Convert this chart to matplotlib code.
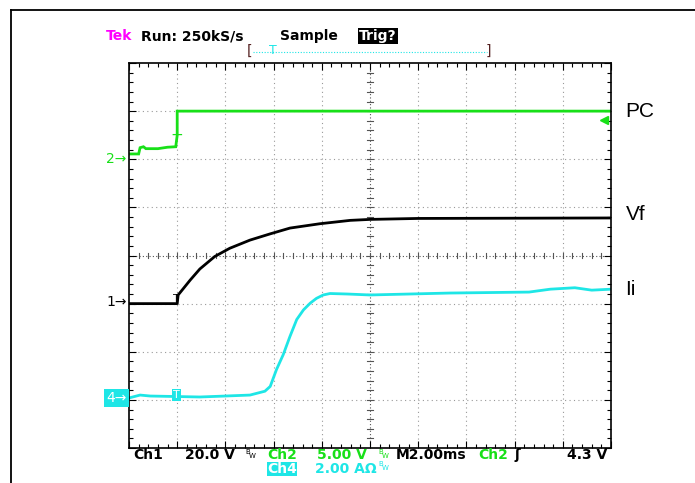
import matplotlib
matplotlib.use("Agg")
import matplotlib.pyplot as plt
import numpy as np
from matplotlib.lines import Line2D

# scope screen in divisions (10 x 8)
ch2_x = [0, 0.2, 0.23, 0.3, 0.35, 0.6, 0.8, 0.97, 1.0, 1.0, 10]
ch2_y = [6.11, 6.11, 6.24, 6.26, 6.22, 6.22, 6.25, 6.26, 6.5, 7.0, 7.0]

ch1_x = [0, 1.0, 1.02, 1.27, 1.47, 1.78, 2.09, 2.51, 2.93, 3.34, 3.96, 4.59, 5.0, 6.0, 10]
ch1_y = [3.0, 3.0, 3.18, 3.49, 3.72, 3.98, 4.15, 4.32, 4.45, 4.57, 4.66, 4.73, 4.75, 4.77, 4.78]

ch4_x = [0, 0.23, 0.44, 1.47, 2.0, 2.51, 2.82, 2.93, 3.06, 3.20, 3.34, 3.48, 3.62, 3.76,
         3.89, 4.03, 4.17, 4.52, 5.0, 6.66, 8.3, 8.74, 9.25, 9.6, 10]
ch4_y = [1.04, 1.10, 1.08, 1.06, 1.08, 1.10, 1.18, 1.28, 1.63, 1.94, 2.32, 2.67, 2.87, 3.01,
         3.11, 3.18, 3.21, 3.20, 3.18, 3.22, 3.24, 3.30, 3.33, 3.28, 3.30]

ground_levels = {"2": 6.0, "1": 3.03, "4": 1.04}
trace_names = ["PC", "Vf", "Ii"]
trace_label_y = [7.0, 4.85, 3.3]

green = "#18e018"
cyan = "#1ee6e6"
W, H = 695, 483

fig = plt.figure(figsize=(W / 100, H / 100), dpi=100)


def fx(px):
    return px / W


def fy(py):
    return 1 - py / H


# outer frame (top and left only)
fig.add_artist(Line2D([fx(10.5), 1], [fy(9.5), fy(9.5)], color="black", lw=1.3))
fig.add_artist(Line2D([fx(10.5), fx(10.5)], [fy(9.5), 0], color="black", lw=1.3))

ax = fig.add_axes([fx(129), fy(448), (611 - 129) / W, (448 - 63) / H])
ax.set_xlim(0, 10)
ax.set_ylim(0, 8)
for s in ax.spines.values():
    s.set_linewidth(1.2)

# graticule
for gx in range(1, 10):
    if gx != 5:
        ax.axvline(gx, color="#999999", lw=0.8, ls=(0, (1, 3)), zorder=0)
for gy in range(1, 8):
    if gy != 4:
        ax.axhline(gy, color="#999999", lw=0.8, ls=(0, (1, 3)), zorder=0)
ax.axvline(5, color="#555555", lw=0.8, ls=(0, (1, 2)), zorder=0)
ax.axhline(4, color="#555555", lw=0.8, ls=(0, (1, 2)), zorder=0)
tx = np.arange(0.2, 10, 0.2)
ty = np.arange(0.2, 8, 0.2)
ax.plot(np.repeat(tx, 3), np.tile([3.94, 4.06, np.nan], len(tx)), color="#555555", lw=0.8)
ax.plot(np.tile([4.94, 5.06, np.nan], len(ty)), np.repeat(ty, 3), color="#555555", lw=0.8)

ax.set_xticks(range(11))
ax.set_yticks(range(9))
ax.set_xticks(np.arange(0, 10.01, 0.2), minor=True)
ax.set_yticks(np.arange(0, 8.01, 0.2), minor=True)
ax.tick_params(which="both", direction="in", top=True, right=True,
               labelbottom=False, labelleft=False)
ax.tick_params(which="major", length=5, width=0.8)
ax.tick_params(which="minor", length=3, width=0.8)

# traces
ax.plot(ch2_x, ch2_y, color=green, lw=2, solid_joinstyle="miter")
ax.plot(ch1_x, ch1_y, color="black", lw=2)
ax.plot(ch4_x, ch4_y, color=cyan, lw=2)

# trigger markers
ax.text(1.0, 6.5, "+", color=green, fontsize=11, ha="center", va="center")
ax.text(0.98, 3.0, "T", color="black", fontsize=8, ha="center", va="bottom")
ax.text(0.98, 1.1, "T", color="white", fontsize=8, ha="center", va="center",
        bbox=dict(boxstyle="square,pad=0.1", fc=cyan, ec="none"))
ax.plot([9.85], [6.82], marker="<", color=green, ms=6, clip_on=False)

# ground markers
ax.text(-0.05, ground_levels["2"], "2\u2192", color=green, fontsize=10, ha="right", va="center")
ax.text(-0.05, ground_levels["1"], "1\u2192", color="black", fontsize=10, ha="right", va="center")
ax.text(-0.05, ground_levels["4"], "4\u2192", color="white", fontsize=10, ha="right", va="center",
        bbox=dict(boxstyle="square,pad=0.15", fc=cyan, ec="none"))

# right side labels
for name, yy in zip(trace_names, trace_label_y):
    ax.text(10.3, yy, name, fontsize=15, family="Liberation Sans",
            ha="left", va="center", clip_on=False)

# header
hy = fy(36)
hfs = 10
fig.text(fx(106), hy, "Tek", color="#ff00ff", fontsize=hfs, va="center", weight="bold")
fig.text(fx(141), hy, "Run: 250kS/s", color="black", fontsize=hfs, va="center", weight="bold")
fig.text(fx(280), hy, "Sample", color="black", fontsize=hfs, va="center", weight="bold")
fig.text(fx(359), hy, "Trig?", color="white", fontsize=hfs, va="center", weight="bold",
         bbox=dict(boxstyle="square,pad=0.1", fc="black", ec="none"))
fig.text(fx(247), fy(51), "[", color="#552222", fontsize=10, va="center")
fig.text(fx(486), fy(51), "]", color="#552222", fontsize=10, va="center")
fig.add_artist(Line2D([fx(253), fx(487)], [fy(51.5), fy(51.5)], color=cyan, lw=0.8, ls=(0, (1, 1.5))))
fig.text(fx(273), fy(51), "T", color=cyan, fontsize=9, ha="center", va="center")

# footer
ly1 = fy(455)
ly2 = fy(469)
fs = 10
fw = "bold"
fig.text(fx(133), ly1, "Ch1", fontsize=fs, va="center", weight=fw)
fig.text(fx(185), ly1, "20.0 V", fontsize=fs, va="center", weight=fw)
fig.text(fx(267), ly1, "Ch2", color=green, fontsize=fs, va="center", weight=fw)
fig.text(fx(317), ly1, "5.00 V", color=green, fontsize=fs, va="center", weight=fw)
fig.text(fx(396), ly1, "M2.00ms", fontsize=fs, va="center", weight=fw)
fig.text(fx(478), ly1, "Ch2", color=green, fontsize=fs, va="center", weight=fw)
fig.text(fx(515), ly1, "\u0283", fontsize=fs, va="center", weight="bold")
fig.text(fx(567), ly1, "4.3 V", fontsize=fs, va="center", weight=fw)
fig.text(fx(267), ly2, "Ch4", color="white", fontsize=fs, va="center", weight=fw,
         bbox=dict(boxstyle="square,pad=0.0", fc=cyan, ec="none"))
fig.text(fx(315), ly2, "2.00 A\u03a9", color=cyan, fontsize=fs, va="center", weight=fw)
for bx, by, col in [(245, 452, "black"), (378, 452, green), (378, 464, cyan)]:
    fig.text(fx(bx), fy(by), "B", color=col, fontsize=5, va="center")
    fig.text(fx(bx + 4), fy(by + 4), "W", color=col, fontsize=5, va="center")

fig.savefig("out.png", dpi=100)
